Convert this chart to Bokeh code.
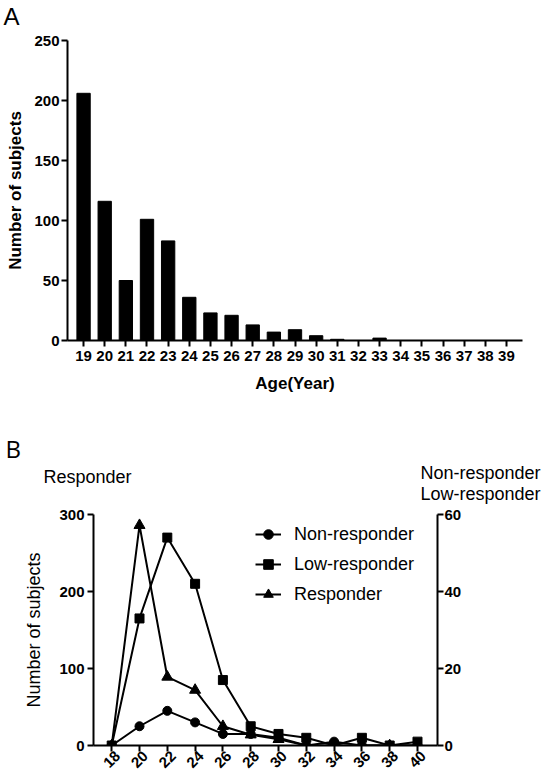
import math
from bokeh.plotting import figure
from bokeh.models import (Range1d, LinearAxis, FixedTicker, Label, Legend, LegendItem)
from bokeh.layouts import column
from bokeh.embed import file_html
from bokeh.resources import INLINE

# ---------------- data ----------------
ages_a = [19, 20, 21, 22, 23, 24, 25, 26, 27, 28, 29, 30, 31, 32, 33, 34, 35, 36, 37, 38, 39]
counts_a = [206, 116, 50, 101, 83, 36, 23, 21, 13, 7, 9, 4, 1, 0, 2, 0, 0, 0, 0, 0, 0]

ages_b = [18, 20, 22, 24, 26, 28, 30, 32, 34, 36, 38, 40]
responder = [0, 286, 89, 72, 25, 14, 8, 0, 0, 0, 0, 0]          # left axis
low_responder = [0, 33, 54, 42, 17, 5, 3, 2, 0, 2, 0, 1]        # right axis
non_responder = [0, 5, 9, 6, 3, 3, 2, 0, 1, 0, 0, 0]            # right axis

ticks_a_y = [0, 50, 100, 150, 200, 250]
ticks_b_left = [0, 100, 200, 300]
ticks_b_right = [0, 20, 40, 60]

TICK_FONT = "Liberation Sans"
TEXT_FONT = "Liberation Sans"
PANEL_FONT = "Open Sans"
W = 551


def header(height, items):
    h = figure(width=W, height=height, x_range=Range1d(0, W), y_range=Range1d(0, height),
               min_border=0, x_axis_type=None, y_axis_type=None, frame_align=False,
               title=None, output_backend="svg", toolbar_location=None)
    h.outline_line_color = None
    for txt, x, y, size, font in items:
        h.add_layout(Label(x=x, y=y, text=txt, text_font=font, text_font_size=size,
                           text_baseline="middle", text_align="left", text_color="black"))
    return h


def style_axis(ax, label_size, label_style):
    ax.axis_line_width = 2
    ax.axis_line_color = "black"
    ax.major_tick_line_width = 2
    ax.major_tick_line_color = "black"
    ax.major_tick_in = 0
    ax.major_tick_out = 6
    ax.minor_tick_line_color = None
    ax.major_label_text_font = TICK_FONT
    ax.major_label_text_font_style = "bold"
    ax.major_label_text_font_size = "15px"
    ax.major_label_text_color = "black"
    ax.axis_label_text_font = TEXT_FONT
    ax.axis_label_text_font_style = label_style
    ax.axis_label_text_font_size = label_size
    ax.axis_label_text_color = "black"


# ---------------- header A ----------------
HA = 30
hA = header(HA, [("A", 3, 14.5, "24px", TEXT_FONT)])

# ---------------- panel A ----------------
pA = figure(width=W, height=370, min_border_left=67, min_border_right=29,
            min_border_top=10, min_border_bottom=60, frame_align=False, title=None,
            x_range=Range1d(18.24, 39.76), y_range=Range1d(0, 250),
            output_backend="svg", toolbar_location=None)
pA.outline_line_color = None
pA.xgrid.visible = False
pA.ygrid.visible = False
pA.vbar(x=ages_a, top=counts_a, width=0.63, color="black")

style_axis(pA.xaxis[0], "17px", "bold")
style_axis(pA.yaxis[0], "17px", "bold")
pA.xaxis[0].ticker = FixedTicker(ticks=ages_a)
pA.xaxis[0].major_label_standoff = 4
pA.xaxis[0].axis_label = "Age(Year)"
pA.xaxis[0].axis_label_standoff = 10
pA.yaxis[0].ticker = FixedTicker(ticks=ticks_a_y)
pA.yaxis[0].major_label_standoff = 2
pA.yaxis[0].axis_label = "Number of subjects"
pA.yaxis[0].axis_label_standoff = 6

# ---------------- header B ----------------
HB = 105
hB = header(HB, [("B", 5, HB - 48, "24px", PANEL_FONT),
                 ("Responder", 43, HB - 76, "18px", TEXT_FONT),
                 ("Non-responder", 420, HB - 72, "18px", TEXT_FONT),
                 ("Low-responder", 420, HB - 93, "18px", TEXT_FONT)])

# ---------------- panel B ----------------
XB0, XB1 = 16.69, 41.44
SHIFT = 0.43  # centres the rotated tick labels under their ticks

pB = figure(width=W, height=278, min_border_left=93, min_border_right=114,
            min_border_top=9, min_border_bottom=38, frame_align=False, title=None,
            x_range=Range1d(XB0, XB1), y_range=Range1d(0, 300),
            output_backend="svg", toolbar_location=None)
pB.extra_y_ranges = {"right": Range1d(0, 60)}
pB.extra_x_ranges = {"lab": Range1d(XB0 - SHIFT, XB1 - SHIFT)}
pB.outline_line_color = None
pB.xgrid.visible = False
pB.ygrid.visible = False

right_axis = LinearAxis(y_range_name="right")
pB.add_layout(right_axis, "right")
lab_axis = LinearAxis(x_range_name="lab")
pB.add_layout(lab_axis, "below")

for ax in (pB.xaxis[0], pB.yaxis[0], right_axis, lab_axis):
    style_axis(ax, "18px", "normal")

# frame-side axis: line and ticks only
pB.xaxis[0].ticker = FixedTicker(ticks=ages_b)
pB.xaxis[0].major_label_overrides = {t: "" for t in ages_b}
pB.xaxis[0].major_label_standoff = 0

# second axis: the rotated labels, centred under the ticks
lab_axis.ticker = FixedTicker(ticks=ages_b)
lab_axis.axis_line_color = None
lab_axis.major_tick_line_color = None
lab_axis.major_tick_out = 0
lab_axis.major_label_orientation = math.pi / 4
lab_axis.major_label_standoff = 2

pB.yaxis[0].ticker = FixedTicker(ticks=ticks_b_left)
pB.yaxis[0].major_label_standoff = 3
pB.yaxis[0].axis_label = "Number of subjects"
pB.yaxis[0].axis_label_standoff = 12
right_axis.ticker = FixedTicker(ticks=ticks_b_right)
right_axis.major_label_standoff = 1

l_non = pB.line(ages_b, non_responder, y_range_name="right", line_color="black", line_width=2)
m_non = pB.scatter(ages_b, non_responder, y_range_name="right", marker="circle", size=9,
                   color="black")
l_low = pB.line(ages_b, low_responder, y_range_name="right", line_color="black", line_width=2)
m_low = pB.scatter(ages_b, low_responder, y_range_name="right", marker="square", size=9,
                   color="black")
l_res = pB.line(ages_b, responder, line_color="black", line_width=2)
m_res = pB.scatter(ages_b, responder, marker="triangle", size=11, color="black")

legend = Legend(items=[
    LegendItem(label="Non-responder", renderers=[l_non, m_non]),
    LegendItem(label="Low-responder", renderers=[l_low, m_low]),
    LegendItem(label="Responder", renderers=[l_res, m_res]),
], location=(162, 139))
legend.padding = 0
legend.margin = 0
legend.border_line_color = None
legend.background_fill_alpha = 0
legend.glyph_width = 26
legend.glyph_height = 24
legend.label_height = 24
legend.spacing = 6
legend.label_standoff = 13
legend.label_text_font = TEXT_FONT
legend.label_text_font_size = "18px"
legend.label_text_color = "black"
pB.add_layout(legend)

layout = column(hA, pA, hB, pB, spacing=0)
open("out.html", "w").write(file_html(layout, INLINE))
